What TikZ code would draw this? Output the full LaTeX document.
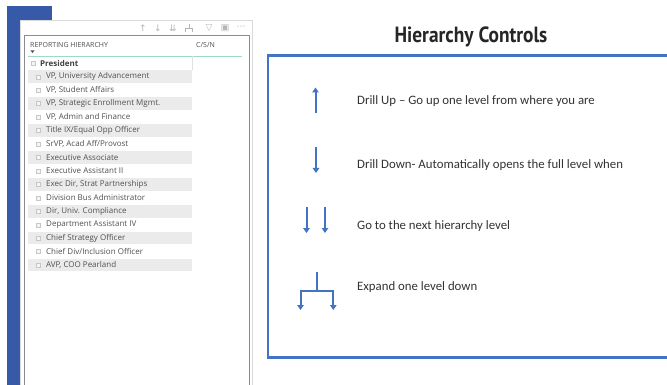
\documentclass[tikz,border=0pt]{standalone}
\usepackage{fontspec}
\setmainfont{Carlito}
\newfontfamily\listfont{Open Sans}
\newfontfamily\titlefont[FakeStretch=0.88]{PT Sans Bold}
\newfontfamily\symfont{DejaVu Sans}
\usetikzlibrary{arrows.meta}
\definecolor{sideblue}{HTML}{3659A8}
\definecolor{boxblue}{HTML}{4472C4}
\definecolor{rowgray}{HTML}{EBEBEB}
\definecolor{txtgray}{HTML}{505050}
\definecolor{icongray}{HTML}{B5B5B5}
\definecolor{lineteal}{HTML}{9ED9C8}
\tikzset{
  rowtext/.style={anchor=west, inner sep=0pt, font=\listfont\fontsize{8}{9}\selectfont, text=txtgray},
  rowbox/.style={draw=black!22, fill=black!4, line width=0.4pt, minimum size=4pt, inner sep=0pt},
  hdr/.style={anchor=west, inner sep=0pt, font=\listfont\fontsize{7}{8}\selectfont, text=txtgray},
  ctrl/.style={anchor=west, inner sep=0pt, font=\fontsize{12.8}{15}\selectfont, text=black!80},
  arr/.style={draw=boxblue, line width=2pt, -{Triangle[length=5pt,width=6.5pt]}},
  stem/.style={draw=boxblue, line width=2pt},
  icon/.style={inner sep=0pt, text=icongray, font=\symfont\fontsize{9}{10}\selectfont},
  iconline/.style={draw=icongray, line width=0.7pt}
}
\begin{document}
\begin{tikzpicture}[x=1pt,y=-1pt]
\useasboundingbox (0,0) rectangle (667,385);
\fill[white] (0,0) rectangle (667,385);
% blue side bar
\fill[sideblue] (7,6) rectangle (52,20);
\fill[sideblue] (7,20) rectangle (20,385);
% panel
\filldraw[fill=white, draw=black!15, line width=0.8pt] (20,20.5) rectangle (252,386);
\draw[draw=black!45, line width=0.7pt] (24,35) rectangle (249,386);
% toolbar icons
\node[icon] (i1) at (143,28) {↑};
\node[icon] (i2) at (158,28) {↓};
\node[icon] (i3) at (173,28) {⇊};
\coordinate (ta) at (189,24);
\coordinate (tb) at (189,28);
\coordinate (tl) at (185.5,28);
\coordinate (tr) at (192.5,28);
\coordinate (tld) at (185.5,32);
\coordinate (trd) at (192.5,32);
\draw[iconline] (ta) -- (tb);
\draw[iconline] (tld) -- (tl) -- (tr) -- (trd);
\node[icon] (i5) at (209,28) {▽};
\node[icon] (i6) at (225,28) {▣};
\node[icon] (i7) at (241,28) {⋯};
% header
\node[hdr] (h1) at (30,45) {REPORTING HIERARCHY};
\node[hdr] (h2) at (196,45) {C/S/N};
\fill[black!70] (30.5,50.5) -- (34.5,50.5) -- (32.5,53) -- cycle;
\draw[lineteal, line width=0.8pt] (28,56) -- (242,56);
\draw[black!12, line width=0.5pt] (192,56) -- (192,70);
% President
\node[rowbox] (b0) at (33,63.3) {};
\node[rowtext, font=\listfont\bfseries\fontsize{8}{9}\selectfont, text=black!75] (r0) at (40,63.3) {President};
% rows
\foreach \i/\t/\s in {
 1/{VP, University Advancement}/1,
 2/{VP, Student Affairs}/0,
 3/{VP, Strategic Enrollment Mgmt.}/1,
 4/{VP, Admin and Finance}/0,
 5/{Title IX/Equal Opp Officer}/1,
 6/{SrVP, Acad Aff/Provost}/0,
 7/{Executive Associate}/1,
 8/{Executive Assistant II}/0,
 9/{Exec Dir, Strat Partnerships}/1,
 10/{Division Bus Administrator}/0,
 11/{Dir, Univ. Compliance}/1,
 12/{Department Assistant IV}/0,
 13/{Chief Strategy Officer}/1,
 14/{Chief Div/Inclusion Officer}/0,
 15/{AVP, COO Pearland}/1}{
  \pgfmathsetmacro{\yy}{63.3+13.45*\i}
  \ifnum\s=1 \fill[rowgray] (28,\yy-6.3) rectangle (192,\yy+6.3); \fi
  \node[rowbox] (b\i) at (38,\yy) {};
  \node[rowtext] (r\i) at (46,\yy) {\t};
}
% title
\node[inner sep=0pt, font=\titlefont\fontsize{22}{24}\selectfont, text=black!85] (title) at (471,37) {Hierarchy Controls};
% blue box (right side open beyond edge)
\draw[boxblue, line width=2.6pt] (672,55.5) -- (268,55.5) -- (268,357.5) -- (672,357.5);
% drill up
\coordinate (u1) at (315.5,113);
\coordinate (u2) at (315.5,87.5);
\draw[arr] (u1) -- (u2);
\node[ctrl] (t1) at (357,101.5) {Drill Up – Go up one level from where you are};
% drill down
\coordinate (d1) at (316,147.5);
\coordinate (d2) at (316,173);
\draw[arr] (d1) -- (d2);
\node[ctrl] (t2) at (357,165) {Drill Down- Automatically opens the full level when};
% next level
\coordinate (n1) at (306.5,207);
\coordinate (n2) at (306.5,233);
\coordinate (n3) at (325,207);
\coordinate (n4) at (325,233);
\draw[arr] (n1) -- (n2);
\draw[arr] (n3) -- (n4);
\node[ctrl] (t3) at (357,226.5) {Go to the next hierarchy level};
% expand
\coordinate (e0) at (317.3,271.5);
\coordinate (e1) at (317.3,290.7);
\coordinate (eL) at (300.5,290.7);
\coordinate (eR) at (333.3,290.7);
\coordinate (eLd) at (300.5,310);
\coordinate (eRd) at (333.3,310);
\draw[stem] (e0) -- (e1);
\draw[stem, line cap=rect] (eL) -- (eR);
\draw[arr] (eL) -- (eLd);
\draw[arr] (eR) -- (eRd);
\node[ctrl] (t4) at (357,287.5) {Expand one level down};
\end{tikzpicture}
\end{document}
